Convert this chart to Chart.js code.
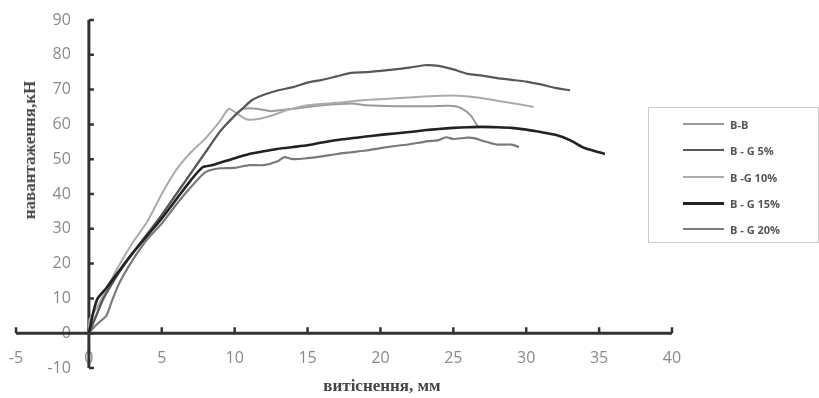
<!DOCTYPE html>
<html>
<head>
<meta charset="utf-8">
<script src="https://cdn.jsdelivr.net/npm/chart.js@4"></script>
<style>
body { margin: 0; background: #fff; }
#wrap { position: relative; width: 819px; height: 398px; }
#legend { position: absolute; left: 648px; top: 107px; width: 171px; height: 136px; border: 1px solid #ccc; box-sizing: border-box; font: bold 11px 'Open Sans'; color: #555; }
.row { position: absolute; left: 34px; height: 14px; display: flex; align-items: center; }
.row i { display: inline-block; width: 41px; margin-right: 6px; }
.title { position: absolute; font: bold 17px 'Liberation Serif'; color: #444; white-space: nowrap; }
#ytitle { left: 30px; top: 150px; transform: translate(-50%, -50%) rotate(-90deg); }
#xtitle { left: 382px; top: 386px; transform: translate(-50%, -50%); }
</style>
</head>
<body>
<div id="wrap">
  <canvas id="chart"></canvas>
  <div id="legend"></div>
  <div class="title" id="ytitle">навантаження,кН</div>
  <div class="title" id="xtitle">витіснення, мм</div>
</div>
<script>
// tick values
const xTicks = [-5, 0, 5, 10, 15, 20, 25, 30, 35, 40];
const yTicks = [-10, 0, 10, 20, 30, 40, 50, 60, 70, 80, 90];

// series names and colours
const seriesNames = ['B-B', 'B - G 5%', 'B -G 10%', 'B - G 15%', 'B - G 20%'];
const seriesColors = ['#9a9a9a', '#585858', '#ababab', '#222222', '#7a7a7a'];

// [displacement mm, load kN]
const bb = [[0,0],[0.5,5],[1,10],[2,17],[3,23],[4,28.5],[5,34],[6,40],[7,46],[8,52],[9,58],[10,62.5],
  [10.6,64.5],[11.5,64.5],[12.5,63.8],[14,64.5],[16,65.5],[18,66],[19,65.5],[21,65.2],[23,65.2],
  [25,65.3],[25.6,64.5],[26.2,62.5],[26.7,59.2]];
const bg5 = [[0,0],[0.5,5],[1,10],[2,17],[3,23],[4,28.5],[5,34],[6,40],[7,46],[8,52],[9,58],[10,62.5],
  [10.6,64.8],[11.2,67],[12,68.5],[13,69.8],[14,70.7],[15,72],[16,72.8],[17,73.8],[18,74.8],[19,75],
  [20,75.4],[21,75.8],[22,76.3],[23,77],[24,76.8],[25,75.8],[26,74.5],[27,74],[28,73.3],[29,72.8],
  [30,72.3],[31,71.5],[32,70.5],[33,69.8]];
const bg10 = [[0,0],[0.05,4],[0.5,7],[1,11],[2,19],[3,26],[4,32],[5,40],[6,47],[7,52],[8,56],[9,61],
  [9.6,64.5],[10.2,63],[10.8,61.5],[11.5,61.5],[12.5,62.5],[13.5,64],[15,65.5],[17,66.2],[19,67],
  [21,67.5],[23,68],[25,68.3],[26.5,67.8],[28,66.8],[29.5,65.8],[30.5,65]];
const bg15 = [[0,0],[0.3,6],[0.6,10],[1.2,13],[2,17.5],[3,23],[4,28],[5,33],[6,38.5],[7,44],[7.8,47.7],
  [8.5,48.3],[10,50.3],[11,51.5],[12,52.3],[13,53],[14,53.5],[15,54],[16,54.8],[17,55.5],[18,56],
  [19,56.5],[20,57],[21,57.4],[22,57.8],[23,58.3],[24,58.7],[25,59],[26,59.2],[27,59.3],[28,59.2],
  [29,59],[30,58.5],[31,57.8],[32,57],[33,55.5],[34,53.2],[35,52],[35.4,51.5]];
const bg20 = [[0,0],[0.3,1.5],[0.8,3.5],[1.2,5],[1.6,9.5],[2.1,14.5],[3,21],[4,27],[5,31.5],[6,37],
  [7,42],[8,46.3],[9,47.4],[10,47.5],[11,48.3],[12,48.3],[13,49.5],[13.4,50.6],[14,50],[15,50.3],
  [16,50.8],[17,51.5],[18,52],[19,52.5],[20,53.2],[21,53.8],[22,54.3],[23,55],[24,55.5],[24.5,56.3],
  [25,55.8],[26,56.2],[26.5,56],[27,55.3],[28,54.2],[29,54.2],[29.5,53.5]];

const seriesData = [bb, bg5, bg10, bg15, bg20];
const drawOrder = [4, 1, 3, 0, 2];
const widths = [2, 2.2, 2, 2.6, 2.2];

// axes crossing at zero, drawn from the chart's scales
const zeroAxes = {
    id: 'zeroAxes',
    beforeDatasetsDraw(chart) {
        const { ctx, scales: { x, y } } = chart;
        const x0 = x.getPixelForValue(0);
        const y0 = y.getPixelForValue(0);
        ctx.save();
        ctx.fillStyle = '#8a8a8a';
        ctx.font = '16px "Open Sans"';
        ctx.textBaseline = 'middle';
        ctx.textAlign = 'right';
        yTicks.forEach(v => ctx.fillText(v, x0 - 18, y.getPixelForValue(v)));
        ctx.textAlign = 'center';
        xTicks.forEach(v => ctx.fillText(v, x.getPixelForValue(v), y0 + 25));

        ctx.strokeStyle = '#333';
        ctx.lineWidth = 3;
        ctx.beginPath();
        ctx.moveTo(x0, y.getPixelForValue(yTicks[yTicks.length - 1]));
        ctx.lineTo(x0, y.getPixelForValue(yTicks[0]));
        ctx.moveTo(x.getPixelForValue(xTicks[0]), y0);
        ctx.lineTo(x.getPixelForValue(xTicks[xTicks.length - 1]), y0);
        ctx.stroke();
        ctx.lineWidth = 2.5;
        ctx.beginPath();
        yTicks.forEach(v => {
            const py = y.getPixelForValue(v);
            ctx.moveTo(x0, py); ctx.lineTo(x0 + 5, py);
        });
        xTicks.forEach(v => {
            const px = x.getPixelForValue(v);
            ctx.moveTo(px, y0); ctx.lineTo(px, y0 - 6);
        });
        ctx.stroke();
        ctx.restore();
    }
};

new Chart(document.getElementById('chart'), {
    type: 'scatter',
    data: {
        datasets: seriesData.map((pts, i) => ({
            label: seriesNames[i],
            data: pts.map(p => ({ x: p[0], y: p[1] })),
            showLine: true,
            borderColor: seriesColors[i],
            borderWidth: widths[i],
            pointRadius: 0,
            tension: 0.2,
            order: drawOrder[i]
        }))
    },
    options: {
        responsive: true,
        maintainAspectRatio: false,
        animation: false,
        layout: { padding: { left: 16, right: 147, top: 20, bottom: 30 } },
        scales: {
            x: { type: 'linear', min: -5, max: 40, display: false },
            y: { type: 'linear', min: -10, max: 90, display: false }
        },
        plugins: {
            legend: { display: false },
            tooltip: { enabled: false }
        }
    },
    plugins: [zeroAxes]
});

// legend box
const legend = document.getElementById('legend');
const rowTops = [9, 35, 62, 88, 114];
seriesNames.forEach((name, i) => {
    const row = document.createElement('div');
    row.className = 'row';
    row.style.top = rowTops[i] + 'px';
    row.innerHTML = '<i style="border-top:' + (widths[i] + 0.5) + 'px solid ' + seriesColors[i] + '"></i>' + name;
    legend.appendChild(row);
});
</script>
</body>
</html>
